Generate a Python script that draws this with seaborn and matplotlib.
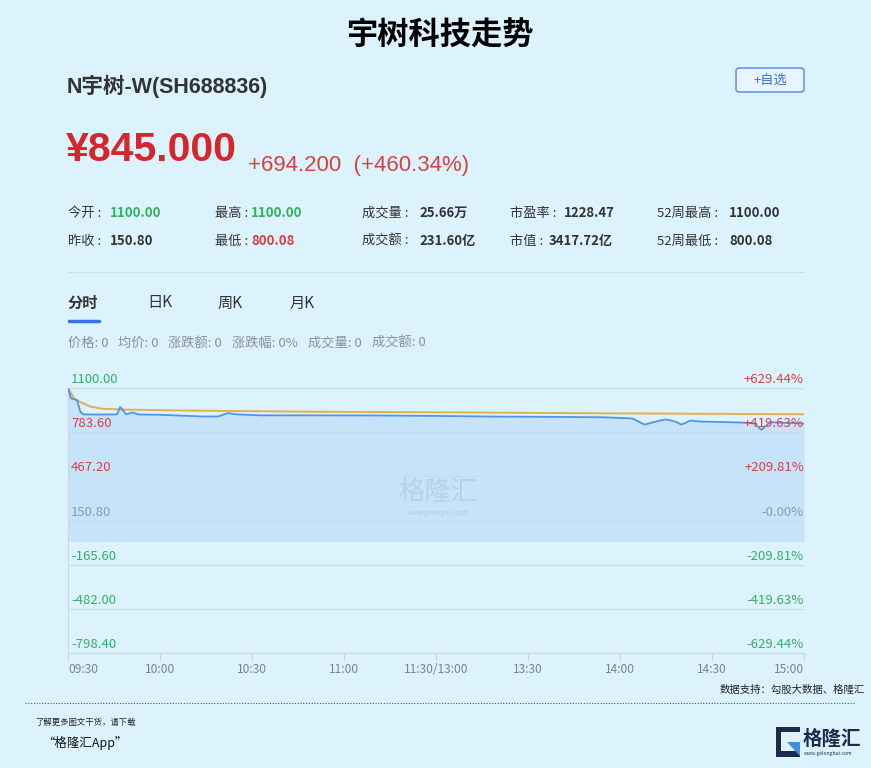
import numpy as np
import pandas as pd
import matplotlib
matplotlib.use("Agg")
import matplotlib.pyplot as plt
import matplotlib.transforms as mtransforms
from matplotlib.patches import FancyBboxPatch, Rectangle, Polygon
from matplotlib.lines import Line2D
import seaborn as sns

# ---------------- data ----------------
prev_close = 150.80
time_min = [0, 1, 2, 3, 4, 5, 10, 16, 17, 19, 21, 23, 30, 44, 49, 52, 55, 63, 80,
            100, 120, 140, 160, 175, 184, 188, 193, 195, 198, 200, 203, 206, 219,
            224, 226, 229, 235, 240]
price = [1100, 1025, 1020, 1010, 930, 911, 910, 911, 964, 911, 925, 910, 908, 896,
         896, 920, 911, 904, 904, 903, 900, 895, 893, 890, 882, 838, 867, 875, 860,
         838, 867, 860, 853, 846, 800, 855, 850, 845]
avg_min = [0, 2, 4, 7, 11, 19, 41, 80, 128, 180, 240]
avg_price = [1100, 1025, 1000, 969, 952, 945, 938, 930, 925, 918, 912]

y_levels = [1100.00, 783.60, 467.20, 150.80, -165.60, -482.00, -798.40]
y_left_labels = ["1100.00", "783.60", "467.20", "150.80", "-165.60", "-482.00", "-798.40"]
y_right_labels = ["+629.44%", "+419.63%", "+209.81%", "-0.00%", "-209.81%", "-419.63%", "-629.44%"]
x_ticks = [0, 30, 60, 90, 120, 150, 180, 210, 240]
x_labels = ["09:30", "10:00", "10:30", "11:00", "11:30/13:00", "13:30", "14:00", "14:30", "15:00"]

stat_labels = ["今开 : ", "最高 : ", "成交量 : ", "市盈率 : ", "52周最高 : ",
               "昨收 : ", "最低 : ", "成交额 : ", "市值 : ", "52周最低 : "]
stat_values = ["1100.00", "1100.00", "25.66万", "1228.47", "1100.00",
               "150.80", "800.08", "231.60亿", "3417.72亿", "800.08"]
tabs = ["分时", "日K", "周K", "月K"]
info_items = ["价格: 0", "均价: 0", "涨跌额: 0", "涨跌幅: 0%", "成交量: 0", "成交额: 0"]

# ---------------- style ----------------
BG = "#dcf3fe"
RED = "#d9403f"
GREEN = "#2fb25c"
GRAY = "#8d9aa6"
DARK = "#333333"

sns.set_theme(style="white")
plt.rcParams["font.family"] = ["Noto Sans CJK SC", "DejaVu Sans"]
NUM_FONT = ["Liberation Sans", "Noto Sans CJK SC"]

W, H = 871, 768
fig = plt.figure(figsize=(W / 100, H / 100), dpi=100, facecolor=BG)


def fx(x):
    return x / W


def fy(y):
    return 1 - y / H


def ftext(x, y, s, **kw):
    kw.setdefault("va", "center")
    return fig.text(fx(x), fy(y), s, **kw)


# ---------------- header ----------------
ftext(440, 36, "宇树科技走势", ha="center", fontsize=22.5, fontweight="bold", color="black")
ftext(67, 86, "N宇树-W(SH688836)", fontsize=15.5, fontweight="bold", color=DARK,
      family=NUM_FONT)

btn = FancyBboxPatch((fx(736), fy(92)), fx(804) - fx(736), fy(68) - fy(92),
                     boxstyle="round,pad=0,rounding_size=0.004",
                     transform=fig.transFigure, facecolor="#e6f5ff",
                     edgecolor="#6a95ee", linewidth=1.2)
fig.patches.append(btn)
ftext(770, 80.5, "+自选", ha="center", fontsize=9.5, color="#3f6fd8")

ftext(66, 150, "¥845.000", fontsize=29.5, fontweight="bold", color="#d4262b", family=NUM_FONT)
ftext(248, 165, "+694.200  (+460.34%)", fontsize=16, color=RED, family=NUM_FONT)

# stats
label_x = [68, 215, 362, 510, 657, 68, 215, 362, 510, 657]
value_x = [110, 251, 419, 564, 729, 110, 251, 419, 549, 729]
row_y = [213] * 5 + [241] * 5
value_colors = [GREEN, GREEN, DARK, DARK, DARK, DARK, RED, DARK, DARK, DARK]
for lab, val, lx, vx, ry, vc in zip(stat_labels, stat_values, label_x, value_x, row_y, value_colors):
    ftext(lx, ry, lab, fontsize=9.5, color=DARK)
    ftext(vx, ry, val, fontsize=9.5, color=vc, fontweight="bold")

fig.add_artist(Line2D([fx(68), fx(804)], [fy(272), fy(272)], transform=fig.transFigure,
                      color="#c9e0ec", linewidth=0.8))

tab_x = [68, 147, 218, 290]
for t, tx in zip(tabs, tab_x):
    ftext(tx, 303, t, fontsize=11, color=DARK, fontweight="bold" if t == "分时" else "normal")
fig.add_artist(Line2D([fx(69), fx(99)], [fy(321), fy(321)], transform=fig.transFigure,
                      color="#3a6ee6", linewidth=2.5, solid_capstyle="round"))
info_x = [68, 118, 168, 232, 308, 372]
for it, ix in zip(info_items, info_x):
    ftext(ix, 343, it, fontsize=9.5, color="#8a8f96")

# ---------------- chart ----------------
ax = fig.add_axes([fx(68), fy(653), fx(804) - fx(68), fy(388) - fy(653)])
ax.set_facecolor(BG)
ax.set_axisbelow("line")

ax.fill_between(time_min, price, 0, color="#c7e3f9", linewidth=0, zorder=1)
df_p = pd.DataFrame({"t": time_min, "p": price})
df_a = pd.DataFrame({"t": avg_min, "p": avg_price})
sns.lineplot(data=df_a, x="t", y="p", ax=ax, color="#e3b04e", linewidth=1.4, zorder=3)
sns.lineplot(data=df_p, x="t", y="p", ax=ax, color="#4f94ea", linewidth=1.3, zorder=4)

ax.set_xlim(0, 240)
ax.set_ylim(-798.4, 1100)
ax.set_yticks(y_levels)
ax.set_yticklabels([])
ax.tick_params(axis="y", length=0)
ax.grid(axis="y", color="#c5dce9", linewidth=0.8)
ax.grid(axis="x", visible=False)
ax.set_xticks(x_ticks)
ax.set_xticklabels(x_labels)
ax.tick_params(axis="x", length=5, width=0.8, color="#c8d4dc", labelsize=8.6,
               labelcolor="#7b838a", pad=2, bottom=True)
xtl = ax.get_xticklabels()
xtl[0].set_horizontalalignment("left")
xtl[-1].set_horizontalalignment("right")
ax.set_xlabel("")
ax.set_ylabel("")
for s in ["top", "right"]:
    ax.spines[s].set_visible(False)
ax.spines["left"].set_color("#c8d8e2")
ax.spines["left"].set_linewidth(0.8)
ax.spines["bottom"].set_color("#c8d8e2")
ax.spines["bottom"].set_linewidth(0.8)

trans = mtransforms.blended_transform_factory(ax.transAxes, ax.transData)
trans = mtransforms.offset_copy(trans, fig=fig, y=2, units="dots")


def lvl_color(v):
    if v > prev_close + 1e-6:
        return RED
    if v < prev_close - 1e-6:
        return GREEN
    return GRAY


left_colors = [GREEN] + [lvl_color(v) for v in y_levels[1:]]
for v, lab, rl, lc in zip(y_levels, y_left_labels, y_right_labels, left_colors):
    ax.text(0.004, v, lab, transform=trans, ha="left", va="bottom", fontsize=9.5,
            color=lc, zorder=5)
    ax.text(1.0, v, rl, transform=trans, ha="right", va="bottom", fontsize=9.5,
            color=lvl_color(v), zorder=5)

# watermark
ftext(438, 492, "格隆汇", ha="center", fontsize=19, color="#9fb8ca", alpha=0.4)
ftext(438, 513, "www.gelonghui.com", ha="center", fontsize=4.5, color="#9fb8ca", alpha=0.5)

# ---------------- footer ----------------
ftext(865, 690, "数据支持：勾股大数据、格隆汇", ha="right", fontsize=7.5, color="#222222")
fig.add_artist(Line2D([fx(25), fx(855)], [fy(703), fy(703)], transform=fig.transFigure,
                      color="#555555", linewidth=0.8, linestyle=(0, (1, 1.5))))
ftext(35, 722, "了解更多图文干货，请下载", fontsize=6, color="#222222")
ftext(42, 743, "“格隆汇App”", fontsize=9, color="#111111")

NAVY = "#1d2b4b"
fig.patches.append(Rectangle((fx(776), fy(757)), fx(800) - fx(776), fy(727) - fy(757),
                             transform=fig.transFigure, facecolor=NAVY, edgecolor="none"))
fig.patches.append(Rectangle((fx(781), fy(751)), fx(800) - fx(781), fy(732) - fy(751),
                             transform=fig.transFigure, facecolor=BG, edgecolor="none"))
fig.patches.append(Polygon([(fx(787), fy(742)), (fx(800), fy(742)), (fx(800), fy(756))],
                           closed=True, transform=fig.transFigure, facecolor="#3d8fe0",
                           edgecolor="none"))
ftext(803, 739, "格隆汇", fontsize=14, fontweight="bold", color=NAVY)
ftext(804, 754, "www.gelonghui.com", fontsize=3.6, color=NAVY)

fig.savefig("out.png", dpi=100, facecolor=BG)
